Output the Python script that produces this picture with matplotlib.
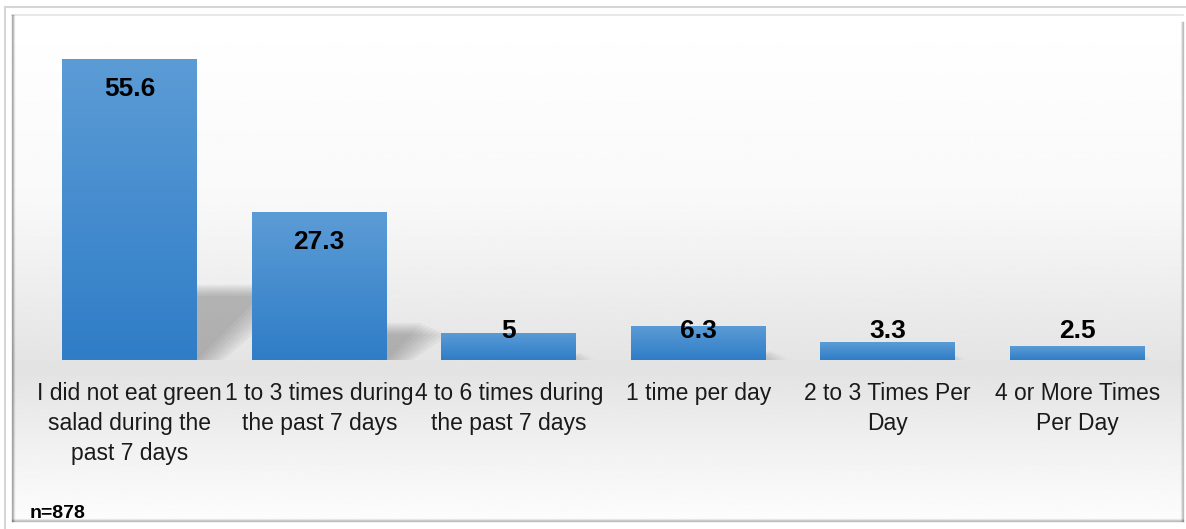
import numpy as np
import matplotlib
matplotlib.use("Agg")
import matplotlib.pyplot as plt
from matplotlib.patches import Polygon
from matplotlib.colors import LinearSegmentedColormap

# ── Data ──────────────────────────────────────────────────────────────────────
categories = [
    "I did not eat green\nsalad during the\npast 7 days",
    "1 to 3 times during\nthe past 7 days",
    "4 to 6 times during\nthe past 7 days",
    "1 time per day",
    "2 to 3 Times Per\nDay",
    "4 or More Times\nPer Day",
]
values = [55.6, 27.3, 5, 6.3, 3.3, 2.5]
value_labels = ["55.6", "27.3", "5", "6.3", "3.3", "2.5"]
sample_note = "n=878"

plt.rcParams["font.family"] = ["Liberation Sans", "DejaVu Sans"]

W, H = 1186, 529
fig = plt.figure(figsize=(W / 100, H / 100), dpi=100)

# ── Background panel with vertical gradient ─────────────────────────────────
bg = fig.add_axes([0, 0, 1, 1], zorder=-10)
bg.set_xlim(0, W)
bg.set_ylim(H, 0)
bg.axis("off")
ys = np.array([15, 200, 370, 470, 521])
gs = np.array([1.0, 0.975, 0.89, 0.96, 0.99])
yy = np.linspace(15, 521, 400)
grad = np.interp(yy, ys, gs)
img = np.repeat(grad[:, None], 2, axis=1)
bg.imshow(img, cmap="gray", vmin=0, vmax=1, extent=[12, 1183, 521, 15],
          aspect="auto", interpolation="bilinear")
# outer frame lines
bg.plot([5, 1186], [7, 7], color="#d6d6d6", lw=1.5)
bg.plot([5, 5], [7, 529], color="#d6d6d6", lw=1.5)
# inner frame
bg.plot([12, 1183], [15, 15], color="#e4e4e4", lw=1.2)
for i, a in enumerate([0.6, 0.35, 0.15]):
    bg.plot([12 + i, 12 + i], [15, 521], color="black", alpha=a * 0.5, lw=1)
    bg.plot([1183 - i, 1183 - i], [22, 521], color="black", alpha=a * 0.4, lw=1)
    bg.plot([12, 1183], [521 - i, 521 - i], color="black", alpha=a * 0.4, lw=1)

# ── Main axes ────────────────────────────────────────────────────────────────
ax = fig.add_axes([35 / W, 169 / H, (1172 - 35) / W, 325 / H])
ax.patch.set_alpha(0)
x = np.arange(len(values))
bars = ax.bar(x, values, width=0.71, color="none", edgecolor="none", zorder=3)
ax.set_xlim(-0.5, len(values) - 0.5)
ax.set_ylim(0, 60)

bar_cmap = LinearSegmentedColormap.from_list("bar", ["#2f7dc7", "#5c9cd6"])
grad_v = np.linspace(0, 1, 256)[:, None]
for b, v in zip(bars, values):
    x0, w = b.get_x(), b.get_width()
    im = ax.imshow(grad_v, cmap=bar_cmap, origin="lower", aspect="auto",
                   extent=[x0, x0 + w, 0, v], zorder=3, interpolation="bilinear")
    im.set_clip_path(b)
    # soft perspective shadow
    sh = v * 0.25
    sk = 0.28 * sh / 10
    for k in range(8):
        d = k * 0.01
        poly = Polygon([(x0 + w * 0.3, 0), (x0 + w + d * 2, 0),
                        (x0 + w + sk + d * 2, sh - d * 30), (x0 + w * 0.3 + sk, sh - d * 30)],
                       closed=True, facecolor="#6a6a6a", edgecolor="none", alpha=0.065, zorder=2)
        ax.add_patch(poly)

for xi, v, lab in zip(x, values, value_labels):
    ax.text(xi, max(v - 5.5, 5.4), lab, ha="center", va="center",
            fontsize=19, fontweight="bold", color="black", zorder=5)

ax.set_xticks(x)
ax.set_xticklabels(categories, fontsize=16.5, color="#1a1a1a", linespacing=1.38)
ax.tick_params(axis="x", length=0, pad=16)
ax.set_yticks([])
for s in ax.spines.values():
    s.set_visible(False)

fig.text(30 / W, 1 - 513 / H, sample_note, fontsize=14, fontweight="bold",
         ha="left", va="center", color="black")

fig.savefig("out.png", dpi=100)
